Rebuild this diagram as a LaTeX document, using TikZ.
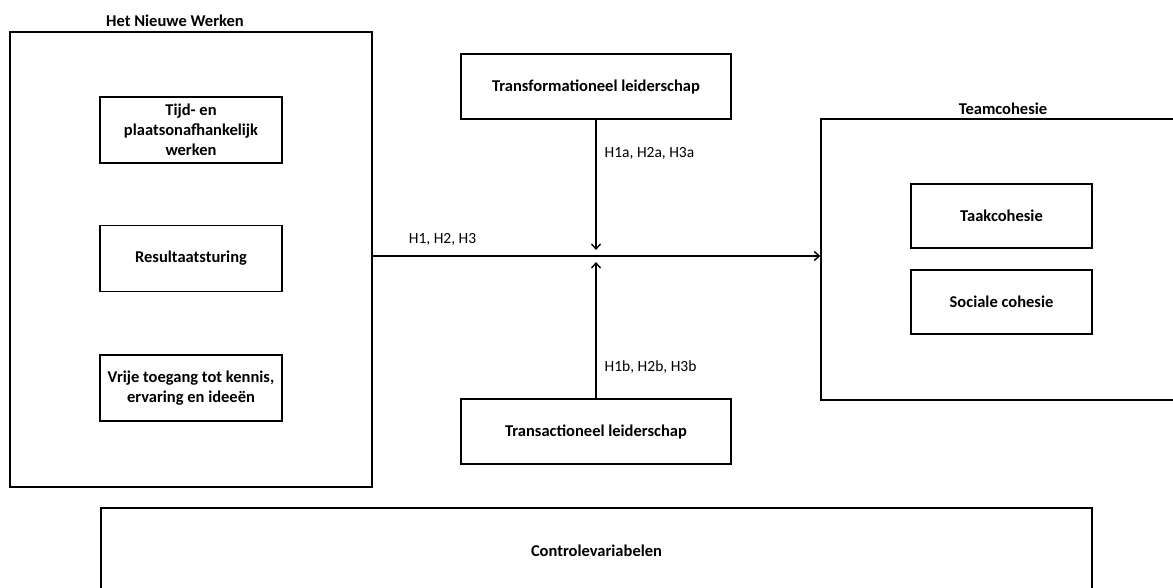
\documentclass[tikz,border=0pt]{standalone}
\usepackage{fontspec}
\setmainfont{Carlito}
\usetikzlibrary{positioning, arrows.meta}

\tikzset{
  box/.style={draw, line width=1.4pt, align=center, inner sep=2pt,
    font=\fontsize{16.5}{20}\selectfont\bfseries},
  group/.style={draw, line width=1.4pt},
  title/.style={font=\fontsize{16.5}{19}\selectfont\bfseries, inner sep=0pt},
  hyp/.style={font=\fontsize{15.5}{19}\selectfont, inner sep=0pt},
  arr/.style={line width=1.4pt, -{Straight Barb[length=5pt,width=9pt]}}
}

\begin{document}
\begin{tikzpicture}[x=1pt,y=-1pt]
\useasboundingbox (0,0) rectangle (1173,588);
\clip (0,0) rectangle (1173,588);
% left group
\node (hnw) [group, minimum width=362pt, minimum height=455pt] at (191,259.5) {};
\node (hnwt) [title] at (175,21) {Het Nieuwe Werken};
\node (tijd) [box, minimum width=182pt, minimum height=66pt] at (191,130)
  {Tijd- en\\plaatsonafhankelijk\\werken};
\node (res) [box, minimum width=182pt, minimum height=66pt] at (191,258.5)
  {Resultaatsturing};
\node (vrij) [box, minimum width=182pt, minimum height=66pt] at (191,388)
  {Vrije toegang tot kennis,\\ervaring en idee\"en};
% moderators
\node (trf) [box, minimum width=270pt, minimum height=65pt] at (596,86.5)
  {Transformationeel leiderschap};
\node (trc) [box, minimum width=270pt, minimum height=65pt] at (596,431.5)
  {Transactioneel leiderschap};
% right group
\node (team) [group, minimum width=360pt, minimum height=281pt] at (1001,259.5) {};
\node (teamt) [title] at (1003,109) {Teamcohesie};
\node (taak) [box, minimum width=181pt, minimum height=64pt] at (1001.5,216)
  {Taakcohesie};
\node (soc) [box, minimum width=181pt, minimum height=64pt] at (1001.5,302)
  {Sociale cohesie};
% controls
\node (ctrl) [box, minimum width=991pt, minimum height=86pt] at (596.5,551)
  {Controlevariabelen};

\coordinate (mtop) at (596,250);
\coordinate (mbot) at (596,262);
\draw [arr] ([yshift=3.5pt]hnw.east) -- ([yshift=3.5pt]team.west)
  node [hyp, pos=0.156, above=10pt] (h) {H1, H2, H3};
\draw [arr] (trf.south) -- (mtop)
  node [hyp, pos=0.26, right=8pt] (ha) {H1a, H2a, H3a};
\draw [arr] (trc.north) -- (mbot)
  node [hyp, pos=0.23, right=8pt] (hb) {H1b, H2b, H3b};
\end{tikzpicture}
\end{document}
